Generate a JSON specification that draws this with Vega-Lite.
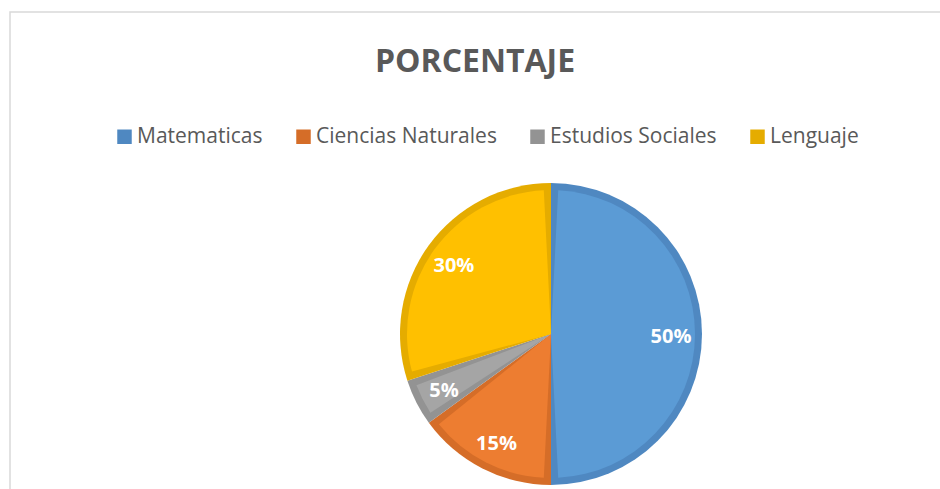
{
  "$schema": "https://vega.github.io/schema/vega-lite/v6.json",
  "width": 1082,
  "height": 644,
  "autosize": {"type": "none"},
  "padding": {"left": 10, "top": 12, "right": 0, "bottom": 0},
  "background": "white",
  "view": {"stroke": "#D9D9D9", "strokeWidth": 1.5, "fill": "white"},
  "title": {
    "text": "PORCENTAJE",
    "font": "Open Sans",
    "fontSize": 32,
    "fontWeight": "bold",
    "color": "#595959",
    "anchor": "middle",
    "orient": "top",
    "offset": 0,
    "baseline": "alphabetic",
    "dx": -76,
    "dy": 92
  },
  "config": {
    "view": {"stroke": "#D9D9D9", "strokeWidth": 1.5},
    "legend": {
      "labelFont": "Open Sans",
      "labelFontSize": 21,
      "labelColor": "#595959",
      "labelLimit": 0,
      "symbolType": "square",
      "symbolSize": 210,
      "symbolStrokeWidth": 0,
      "labelOffset": 2,
      "columnPadding": 30,
      "padding": 0
    }
  },
  "data": {
    "values": [
      {"materia": "Matematicas", "pct": 0.50, "idx": 1},
      {"materia": "Ciencias Naturales", "pct": 0.15, "idx": 2},
      {"materia": "Estudios Sociales", "pct": 0.05, "idx": 3},
      {"materia": "Lenguaje", "pct": 0.30, "idx": 4}
    ]
  },
  "encoding": {
    "theta": {"field": "pct", "type": "quantitative", "stack": true},
    "order": {"field": "idx", "type": "quantitative"}
  },
  "layer": [
    {
      "mark": {"type": "arc", "outerRadius": 151},
      "encoding": {
        "color": {
          "field": "materia",
          "type": "nominal",
          "scale": {
            "domain": ["Matematicas", "Ciencias Naturales", "Estudios Sociales", "Lenguaje"],
            "range": ["#4F88C1", "#D56D28", "#939393", "#E5AC00"]
          },
          "legend": {
            "title": null,
            "orient": "none",
            "direction": "horizontal",
            "columns": 4,
            "legendX": 104,
            "legendY": 114
          }
        }
      }
    },
    {
      "mark": {"type": "arc", "outerRadius": 144, "padAngle": 0.1},
      "encoding": {
        "fill": {
          "field": "materia",
          "type": "nominal",
          "scale": {
            "domain": ["Matematicas", "Ciencias Naturales", "Estudios Sociales", "Lenguaje"],
            "range": ["#5B9BD5", "#ED7D31", "#A5A5A5", "#FFC000"]
          },
          "legend": null
        }
      }
    },
    {
      "mark": {
        "type": "text",
        "radius": 120,
        "dy": 3,
        "font": "Open Sans",
        "fontSize": 20,
        "fontWeight": "bold",
        "color": "white",
        "align": "center",
        "baseline": "middle"
      },
      "encoding": {
        "text": {"field": "pct", "type": "quantitative", "format": ".0%"}
      }
    }
  ]
}
